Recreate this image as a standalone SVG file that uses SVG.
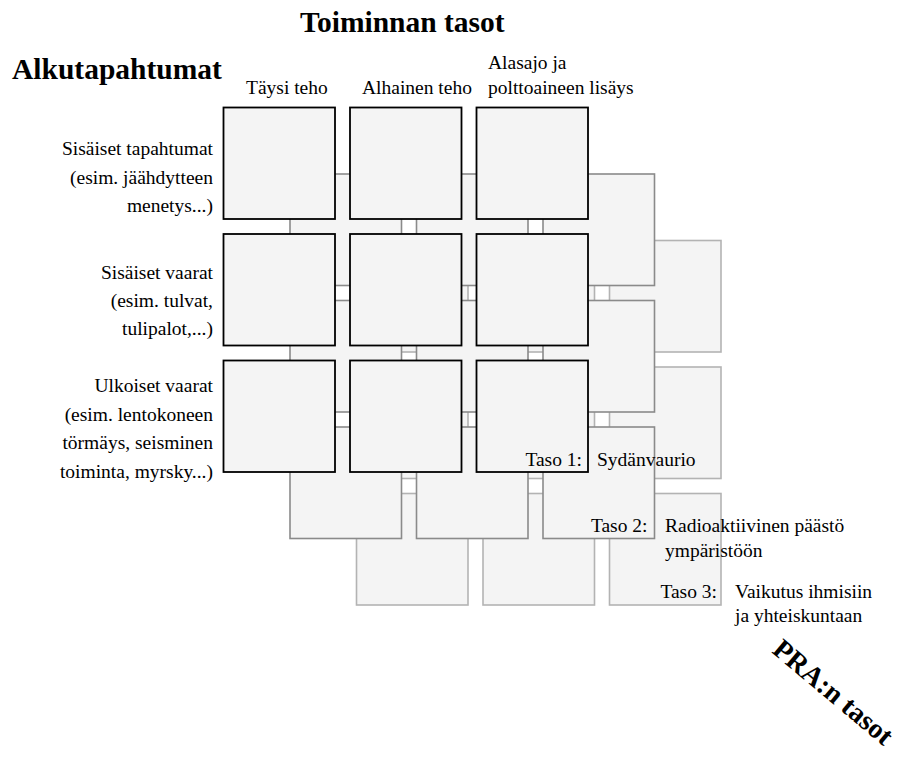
<svg xmlns="http://www.w3.org/2000/svg" width="899" height="758" viewBox="0 0 899 758">
<style>
.b{fill:#f4f4f4}
.l3{stroke:#b3b3b3;stroke-width:1.6}
.l2{stroke:#8a8a8a;stroke-width:1.6}
.l1{stroke:#000;stroke-width:1.8}
text{font-family:"Liberation Serif","Times New Roman",serif;font-size:19.5px;fill:#000}
.h{font-size:29.5px;font-weight:bold}
.r{font-size:28px;font-weight:bold}
.e{text-anchor:end}
</style>
<defs>
<rect id="sq" width="111.5" height="111.5"/>
</defs>
<rect width="899" height="758" fill="#fff"/>
<g id="layer3">
<g id="n3-11"><use href="#sq" class="b l3" x="356.5" y="240.5"/></g>
<g id="n3-12"><use href="#sq" class="b l3" x="483" y="240.5"/></g>
<g id="n3-13"><use href="#sq" class="b l3" x="609.5" y="240.5"/></g>
<g id="n3-21"><use href="#sq" class="b l3" x="356.5" y="367"/></g>
<g id="n3-22"><use href="#sq" class="b l3" x="483" y="367"/></g>
<g id="n3-23"><use href="#sq" class="b l3" x="609.5" y="367"/></g>
<g id="n3-31"><use href="#sq" class="b l3" x="356.5" y="493.5"/></g>
<g id="n3-32"><use href="#sq" class="b l3" x="483" y="493.5"/></g>
<g id="n3-33"><use href="#sq" class="b l3" x="609.5" y="493.5"/></g>
</g>
<g id="layer2">
<g id="n2-11"><use href="#sq" class="b l2" x="290" y="174"/></g>
<g id="n2-12"><use href="#sq" class="b l2" x="416.5" y="174"/></g>
<g id="n2-13"><use href="#sq" class="b l2" x="543" y="174"/></g>
<g id="n2-21"><use href="#sq" class="b l2" x="290" y="300.5"/></g>
<g id="n2-22"><use href="#sq" class="b l2" x="416.5" y="300.5"/></g>
<g id="n2-23"><use href="#sq" class="b l2" x="543" y="300.5"/></g>
<g id="n2-31"><use href="#sq" class="b l2" x="290" y="427"/></g>
<g id="n2-32"><use href="#sq" class="b l2" x="416.5" y="427"/></g>
<g id="n2-33"><use href="#sq" class="b l2" x="543" y="427"/></g>
</g>
<g id="layer1">
<g id="n1-11"><use href="#sq" class="b l1" x="223.5" y="107.5"/></g>
<g id="n1-12"><use href="#sq" class="b l1" x="350" y="107.5"/></g>
<g id="n1-13"><use href="#sq" class="b l1" x="476.5" y="107.5"/></g>
<g id="n1-21"><use href="#sq" class="b l1" x="223.5" y="234"/></g>
<g id="n1-22"><use href="#sq" class="b l1" x="350" y="234"/></g>
<g id="n1-23"><use href="#sq" class="b l1" x="476.5" y="234"/></g>
<g id="n1-31"><use href="#sq" class="b l1" x="223.5" y="360.5"/></g>
<g id="n1-32"><use href="#sq" class="b l1" x="350" y="360.5"/></g>
<g id="n1-33"><use href="#sq" class="b l1" x="476.5" y="360.5"/></g>
</g>
<g id="connectors"/>
<g id="labels">
<text class="h" x="300" y="31.5">Toiminnan tasot</text>
<text class="h" x="12" y="79">Alkutapahtumat</text>
<text x="246" y="94">Täysi teho</text>
<text x="362" y="94">Alhainen teho</text>
<text x="488" y="68.5">Alasajo ja</text>
<text x="488" y="94">polttoaineen lisäys</text>
<text class="e" x="213" y="155">Sisäiset tapahtumat</text>
<text class="e" x="213" y="183.5">(esim. jäähdytteen</text>
<text class="e" x="213" y="212">menetys...)</text>
<text class="e" x="213" y="278.5">Sisäiset vaarat</text>
<text class="e" x="213" y="306.5">(esim. tulvat,</text>
<text class="e" x="213" y="334.5">tulipalot,...)</text>
<text class="e" x="213" y="392">Ulkoiset vaarat</text>
<text class="e" x="213" y="420.5">(esim. lentokoneen</text>
<text class="e" x="213" y="449">törmäys, seisminen</text>
<text class="e" x="213" y="477.5">toiminta, myrsky...)</text>
<text class="e" x="582" y="466">Taso 1:</text>
<text class="e" x="647.5" y="532">Taso 2:</text>
<text class="e" x="717" y="597.5">Taso 3:</text>
<text x="597" y="466">Sydänvaurio</text>
<text x="665" y="532">Radioaktiivinen päästö</text>
<text x="665" y="557">ympäristöön</text>
<text x="735" y="597.5">Vaikutus ihmisiin</text>
<text x="735" y="622">ja yhteiskuntaan</text>
<text class="r" transform="translate(771,652) rotate(40)">PRA:n tasot</text>
</g>
</svg>
